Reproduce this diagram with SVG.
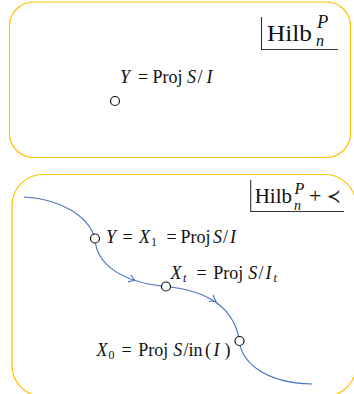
<svg xmlns="http://www.w3.org/2000/svg" width="354" height="394" viewBox="0 0 354 394">
<style>
.panel{fill:none;stroke:#FFC000;stroke-width:1.2}
.t{font-family:"Liberation Serif","DejaVu Serif",serif;fill:#111}
.f{font-size:18px}
.m{font-style:italic}
.sub{font-size:12px}
.node{fill:#fff;stroke:#111;stroke-width:1.2}
.bar{fill:none;stroke:#333;stroke-width:1.1}
.curve{fill:none;stroke:#4472C4;stroke-width:1.1}
</style>
<defs>
<path id="ah" d="M-6,-3.8 Q-2,-0.8 0,0 Q-2,0.8 -6,3.8" fill="none" stroke="#4472C4" stroke-width="1.1"/>
</defs>
<rect id="panel-top" class="panel" x="9.5" y="2" width="341" height="155.5" rx="24"/>
<rect id="panel-bottom" class="panel" x="12" y="174.5" width="344" height="222" rx="31"/>

<g id="label-hilb-top">
<path class="bar" d="M261.5,17 V49.5 H338"/>
<text class="t" x="267" y="40.5" style="font-size:23px" textLength="45" lengthAdjust="spacingAndGlyphs">Hilb</text>
<text class="t m" x="317" y="28" style="font-size:18.5px">P</text>
<text class="t m" x="316" y="45.5" style="font-size:16px">n</text>
</g>

<g id="label-hilb-bottom">
<path class="bar" d="M250.7,180 V211.5 H344"/>
<text class="t" x="254.7" y="203" style="font-size:22px" textLength="37.3" lengthAdjust="spacingAndGlyphs">Hilb</text>
<text class="t m" x="294.5" y="194" style="font-size:16px">P</text>
<text class="t m" x="294" y="209.5" style="font-size:14px">n</text>
<text class="t" x="309" y="203" style="font-size:22px">+</text>
<text class="t" x="327" y="203" style="font-size:20px" textLength="14" lengthAdjust="spacingAndGlyphs">≺</text>
</g>

<g id="connectors">
<path class="curve" d="M24,197 C60,199 88,215 95,238.5 C96,262 118,282 166,286.5 C195,289 233,300 239.5,341 C241,360 262,383 312,384"/>
<use href="#ah" transform="translate(135,280.5) rotate(21)"/>
<use href="#ah" transform="translate(216,301.5) rotate(34)"/>
</g>

<g id="node-Y-top">
<circle class="node" cx="115" cy="101" r="4.5"/>
<text class="t f"><tspan class="m" x="120" y="82.5">Y</tspan><tspan x="138" y="82.5">=</tspan><tspan x="152.5" y="82.5">Proj</tspan><tspan class="m" x="187" y="82.5">S</tspan><tspan x="197.5" y="82.5">/</tspan><tspan class="m" x="206.5" y="82.5">I</tspan></text>
</g>

<g id="node-Y">
<circle class="node" cx="95" cy="238.5" r="4.5"/>
<text class="t f"><tspan class="m" x="106" y="242.5">Y</tspan><tspan x="122.4" y="242.5">=</tspan><tspan class="m" x="139" y="242.5">X</tspan><tspan class="sub" x="151" y="245.5">1</tspan><tspan x="166.4" y="242.5">=</tspan><tspan x="180.5" y="242.5">Proj</tspan><tspan class="m" x="213" y="242.5">S</tspan><tspan x="223" y="242.5">/</tspan><tspan class="m" x="230" y="242.5">I</tspan></text>
</g>

<g id="node-Xt">
<circle class="node" cx="166" cy="286.5" r="4.5"/>
<text class="t f"><tspan class="m" x="170.5" y="279">X</tspan><tspan class="sub m" x="183" y="282">t</tspan><tspan x="196.6" y="279">=</tspan><tspan x="213.3" y="279">Proj</tspan><tspan class="m" x="248.3" y="279">S</tspan><tspan x="258.5" y="279">/</tspan><tspan class="m" x="265.5" y="279">I</tspan><tspan class="sub m" x="273.5" y="282">t</tspan></text>
</g>

<g id="node-X0">
<circle class="node" cx="239.5" cy="341" r="4.5"/>
<text class="t f"><tspan class="m" x="96.5" y="355.5">X</tspan><tspan class="sub" x="108.5" y="358.5">0</tspan><tspan x="121.6" y="355.5">=</tspan><tspan x="138.3" y="355.5">Proj</tspan><tspan class="m" x="173.3" y="355.5">S</tspan><tspan x="183.5" y="355.5">/</tspan><tspan x="188.5" y="355.5">in</tspan><tspan x="205" y="355.5">(</tspan><tspan class="m" x="213.5" y="355.5">I</tspan><tspan x="224.5" y="355.5">)</tspan></text>
</g>
</svg>
